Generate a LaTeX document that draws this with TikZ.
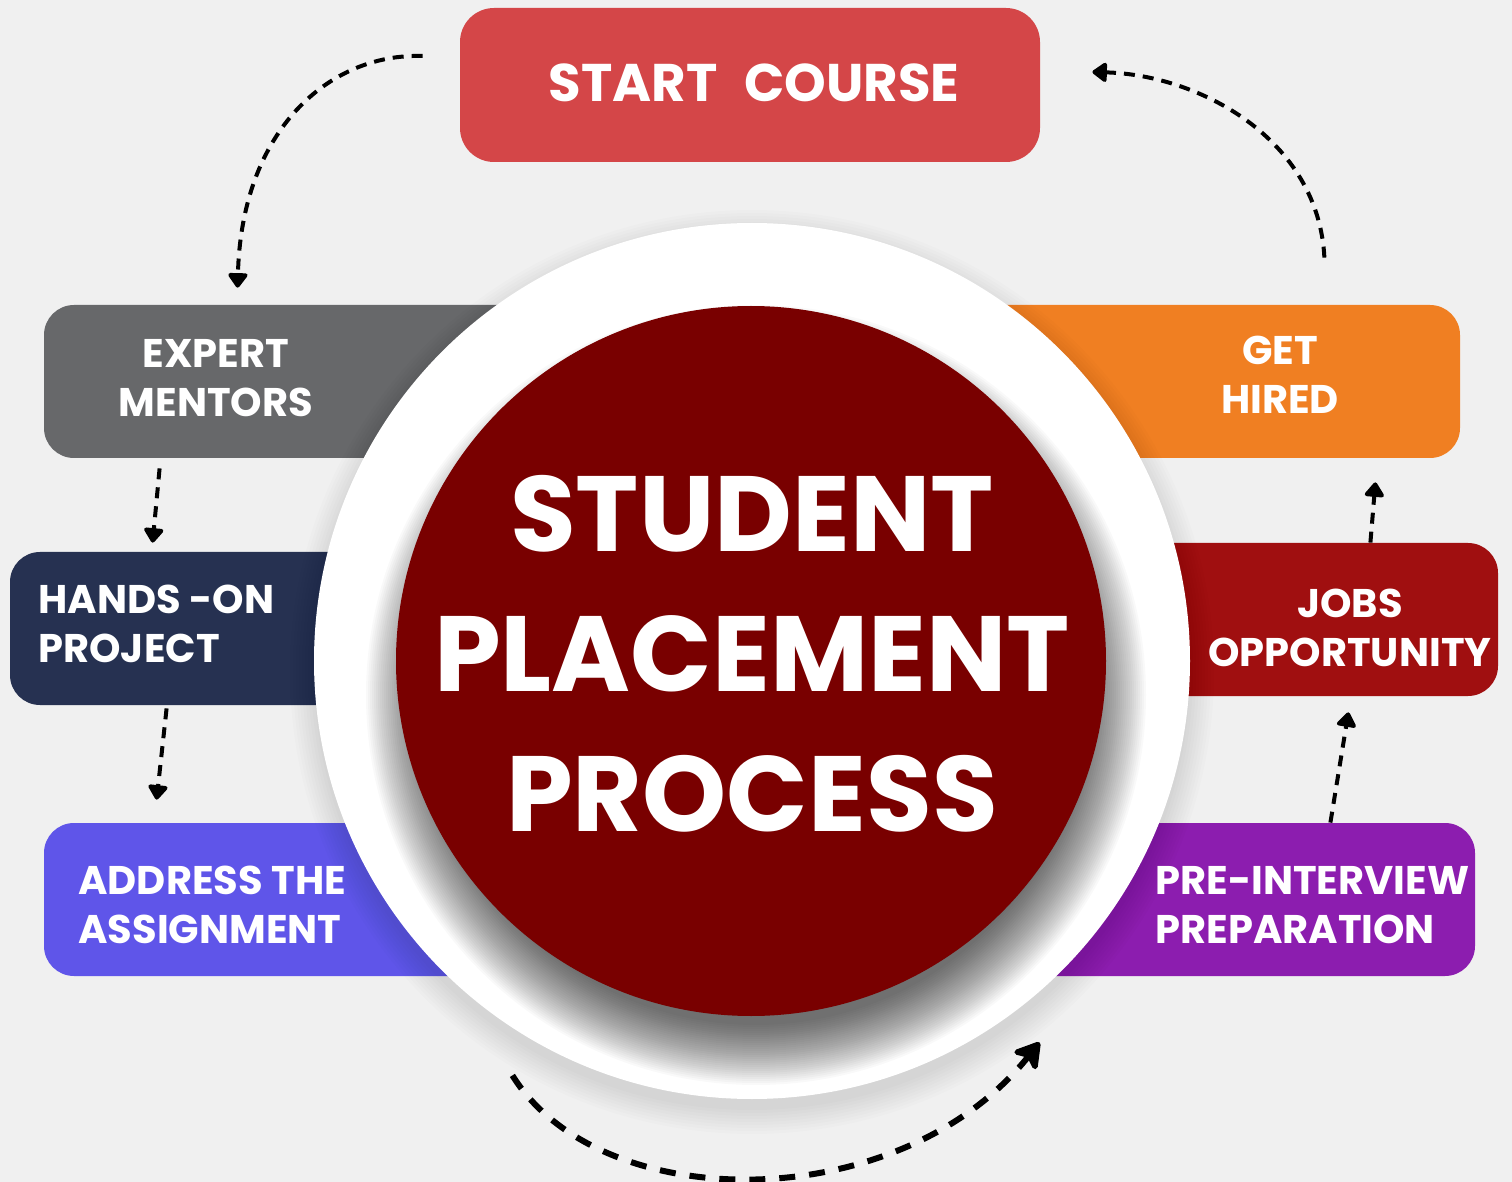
\documentclass[tikz,border=0pt]{standalone}
\usepackage{fontspec}
\setmainfont{Poppins}
\usetikzlibrary{arrows.meta,calc}
\definecolor{bgc}{HTML}{F0F0F0}
\definecolor{startc}{HTML}{D44648}
\definecolor{grayc}{HTML}{67686A}
\definecolor{navyc}{HTML}{263151}
\definecolor{assignc}{HTML}{5F55E9}
\definecolor{hiredc}{HTML}{F07F22}
\definecolor{jobsc}{HTML}{A00F10}
\definecolor{prepc}{HTML}{8C1DAF}
\definecolor{hubc}{HTML}{790000}
\begin{document}
\begin{tikzpicture}[x=0.5pt,y=-0.5pt,
  box/.style={rectangle, rounded corners=15pt, inner sep=0pt, minimum height=76.5pt},
  lbl/.style={inner sep=0pt, text=white, font=\bfseries\fontsize{20pt}{24.5pt}\selectfont},
  flow/.style={draw=black, line width=2pt, dash pattern=on 5.5pt off 4pt,
    -{Triangle[width=11pt,length=8pt,round]}},
  bigflow/.style={draw=black, line width=3pt, dash pattern=on 8pt off 7pt,
    -{Stealth[width=18pt,length=15pt,inset=4pt,round]}}]
\useasboundingbox (0,0) rectangle (1512,1182);
\fill[bgc] (0,0) rectangle (1512,1182);

% boxes (partly hidden behind the circle)
\node[box, fill=startc, minimum width=290pt, minimum height=77pt, rounded corners=17pt] (start) at (750,85) {};
\node[box, fill=grayc, minimum width=278pt] (mentorsbox) at (322,381.5) {};
\node[box, fill=navyc, minimum width=245pt] (navybox) at (255,628.5) {};
\node[box, fill=assignc, minimum width=278pt] (assignbox) at (322,899.5) {};
\node[box, fill=hiredc, minimum width=280pt] (hiredbox) at (1180,381.5) {};
\node[box, fill=jobsc, minimum width=249pt] (jobsbox) at (1249,619.5) {};
\node[box, fill=prepc, minimum width=262.5pt] (prepbox) at (1212.5,899.5) {};

% faint outer shadow of the white disc
\foreach \r in {438,441,...,462} \fill[black,opacity=0.01] (752,672) circle[radius=\r];
% white disc
\fill[white] (752,661) circle[radius=438];
% shadow of the inner disc
\begin{scope}
  \clip (752,661) circle[radius=438];
  \foreach \r in {330,332,...,390} \fill[black,opacity=0.022] (756,695) circle[radius=\r];
\end{scope}
% inner disc
\node[circle, fill=hubc, minimum size=355pt, inner sep=0pt] (hub) at (751,661) {};

% labels
\node[inner sep=0pt, text=white, font=\bfseries\fontsize{26.5pt}{28pt}\selectfont] (starttext) at (754,83) {START\hspace{0.5em}COURSE};
\node[lbl, align=center] (mentors) at (216,378) {EXPERT\\MENTORS};
\node[lbl, align=left, anchor=west] (hands) at (38,624) {HANDS -ON\\PROJECT};
\node[lbl, align=left, anchor=west] (assign) at (78,905) {ADDRESS THE\\ASSIGNMENT};
\node[lbl, align=center] (hired) at (1280,375) {GET\\HIRED};
\node[lbl, align=center] (jobs) at (1350,627.5) {JOBS\\OPPORTUNITY};
\node[lbl, align=left, anchor=west] (prep) at (1155,905) {PRE-INTERVIEW\\PREPARATION};
\node[inner sep=0pt, text=white, align=center, font=\bfseries\fontsize{53.5pt}{70pt}\selectfont] (title) at (752,654) {STUDENT\\PLACEMENT\\PROCESS};

% connectors
\draw[flow] ($(start.west)+(-37,-29)$) .. controls ($(start.west)+(-130,-32)$) and ($(mentorsbox.north west)+(198,-175)$) .. ($(mentorsbox.north west)+(194,-17)$);
\draw[flow] ($(mentorsbox.south west)+(116,10)$) -- ($(navybox.north west)+(143,-9)$);
\draw[flow] ($(navybox.south west)+(157,3)$) -- ($(assignbox.north west)+(113,-23)$);
\draw[bigflow] ($(assignbox.south east)+(-88,99)$) .. controls ($(assignbox.south east)+(0,241)$) and ($(prepbox.south west)+(-50,241)$) .. ($(prepbox.south west)+(90,66)$);
\draw[flow] ($(prepbox.north east)+(-145,0)$) -- ($(jobsbox.south east)+(-150,16)$);
\draw[flow] ($(jobsbox.north east)+(-128,0)$) -- ($(hiredbox.south east)+(-85,24)$);
\draw[flow] ($(hiredbox.north east)+(-136,-47)$) .. controls ($(hiredbox.north east)+(-142,-165)$) and ($(start.east)+(160,-10)$) .. ($(start.east)+(52,-13)$);
\end{tikzpicture}
\end{document}
